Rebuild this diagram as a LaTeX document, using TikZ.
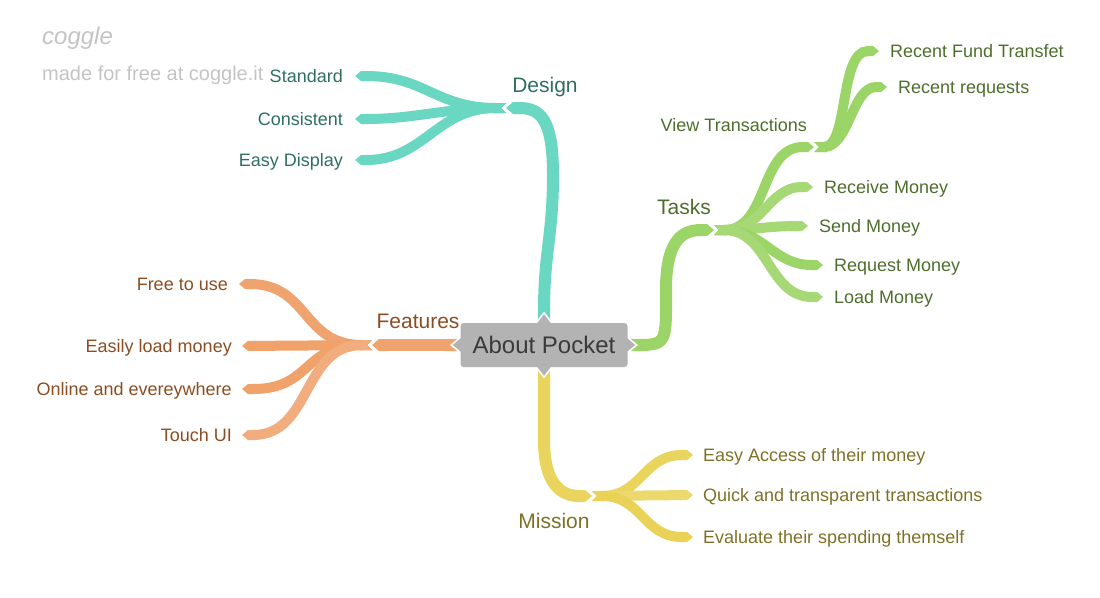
\documentclass[tikz,border=0pt]{standalone}
\usepackage{fontspec}
\setmainfont{Liberation Sans}
\usepackage{tikz}
\usetikzlibrary{arrows.meta,backgrounds,positioning}
\definecolor{designline}{HTML}{6AD7C2}
\definecolor{designtext}{HTML}{2F6F62}
\definecolor{taskline}{HTML}{9CD567}
\definecolor{tasktext}{HTML}{4D6E2C}
\definecolor{featline}{HTML}{EFA46F}
\definecolor{feattext}{HTML}{8B4D22}
\definecolor{missline}{HTML}{E9D55D}
\definecolor{misstext}{HTML}{7D7128}
\definecolor{rootgray}{HTML}{B3B3B3}
\definecolor{roottext}{HTML}{3A3A3A}
\definecolor{marktext}{HTML}{C4C4C4}
\tikzstyle{rootbox}=[fill=rootgray,rounded corners=3pt,minimum width=167pt,minimum height=44pt,text=roottext,font=\fontsize{24}{28}\selectfont]
\tikzstyle{topic}=[inner sep=0pt,text height=15pt,text depth=0pt,font=\fontsize{21}{24}\selectfont]
\tikzstyle{leaf}=[inner sep=0pt,text height=13pt,text depth=0pt,font=\fontsize{18}{20}\selectfont]
\tikzstyle{branch}=[line width=12pt,{Triangle Cap[reversed,length=6pt]}-{Triangle Cap[length=7pt]}]
\tikzstyle{twig}=[line width=10pt,{Triangle Cap[reversed,length=5pt]}-{Triangle Cap[length=6pt]}]
\tikzstyle{pointer}=[fill=rootgray,draw=white,line width=1.5pt,line join=miter]

\begin{document}
\begin{tikzpicture}[x=1pt,y=-1pt]
        \useasboundingbox (0,0) rectangle (1100,597);
        \node at (42,38) [anchor=west,inner sep=0pt,text=marktext,font=\fontsize{24}{26}\itshape] (logo) {coggle};
        \node at (42,75) [anchor=west,inner sep=0pt,text=marktext,font=\fontsize{20}{22}\selectfont] (madefor) {made for free at coggle.it};

        \node at (544,345) [rootbox] (root) {About Pocket};

        \node at (545,85) [topic,text=designtext] (design) {Design};
        \coordinate (dsgj) at (506,108);
        \node at (343,76) [leaf,anchor=east,text=designtext] (standard) {Standard};
        \node at (343,119) [leaf,anchor=east,text=designtext] (consistent) {Consistent};
        \node at (343,160) [leaf,anchor=east,text=designtext] (easydisplay) {Easy Display};

        \node at (684,207) [topic,text=tasktext] (tasks) {Tasks};
        \coordinate (tskj) at (714,230);
        \node at (807,125) [leaf,anchor=east,text=tasktext] (viewtx) {View Transactions};
        \coordinate (vtj) at (814,147);
        \node at (890,51) [leaf,anchor=west,text=tasktext] (fundtx) {Recent Fund Transfet};
        \node at (898,87) [leaf,anchor=west,text=tasktext] (recentreq) {Recent requests};
        \node at (824,187) [leaf,anchor=west,text=tasktext] (receive) {Receive Money};
        \node at (819,226) [leaf,anchor=west,text=tasktext] (send) {Send Money};
        \node at (834,265) [leaf,anchor=west,text=tasktext] (request) {Request Money};
        \node at (834,297) [leaf,anchor=west,text=tasktext] (load) {Load Money};

        \node at (418,321) [topic,text=feattext] (features) {Features};
        \coordinate (ftj) at (372,345);
        \node at (228,284) [leaf,anchor=east,text=feattext] (freeuse) {Free to use};
        \node at (232,346) [leaf,anchor=east,text=feattext] (easyload) {Easily load money};
        \node at (232,389) [leaf,anchor=east,text=feattext] (online) {Online and evereywhere};
        \node at (232,435) [leaf,anchor=east,text=feattext] (touchui) {Touch UI};

        \node at (554,521) [topic,text=misstext] (mission) {Mission};
        \coordinate (msj) at (592,496);
        \node at (703,455) [leaf,anchor=west,text=misstext] (easyaccess) {Easy Access of their money};
        \node at (703,495) [leaf,anchor=west,text=misstext] (quick) {Quick and transparent transactions};
        \node at (703,537) [leaf,anchor=west,text=misstext] (evaluate) {Evaluate their spending themself};

        \begin{scope}[on background layer]
        \draw [branch,designline] (root.north) .. controls +(0,-70) and +(0,60) .. (553,175) .. controls +(0,-55) and +(35,0) .. (dsgj);
        \draw [twig,designline] (dsgj) .. controls +(-70,0) and +(70,0) .. ([xshift=12pt]standard.east);
        \draw [twig,designline] (dsgj) .. controls +(-60,0) and +(60,0) .. ([xshift=12pt]consistent.east);
        \draw [twig,designline] (dsgj) .. controls +(-70,0) and +(70,0) .. ([xshift=12pt]easydisplay.east);

        \draw [branch,taskline] (root.east) .. controls +(40,0) and +(0,50) .. (666,290) .. controls +(0,-45) and +(-35,0) .. (tskj);
        \draw [twig,taskline] (tskj) .. controls +(55,0) and +(-55,0) .. (vtj);
        \draw [twig,taskline] (vtj) .. controls +(35,0) and +(-40,0) .. ([xshift=-11pt]fundtx.west);
        \draw [twig,taskline] (vtj) .. controls +(35,0) and +(-35,0) .. ([xshift=-11pt]recentreq.west);
        \draw [twig,taskline!90!white] (tskj) .. controls +(50,0) and +(-45,0) .. ([xshift=-11pt]receive.west);
        \draw [twig,taskline!90!white] (tskj) .. controls +(40,0) and +(-40,0) .. ([xshift=-11pt]send.west);
        \draw [twig,taskline] (tskj) .. controls +(50,0) and +(-50,0) .. ([xshift=-11pt]request.west);
        \draw [twig,taskline!90!white] (tskj) .. controls +(55,0) and +(-55,0) .. ([xshift=-11pt]load.west);

        \draw [branch,featline] (root.west) -- (ftj);
        \draw [twig,featline] (ftj) .. controls +(-70,0) and +(70,0) .. ([xshift=11pt]freeuse.east);
        \draw [twig,featline!95!orange] (ftj) -- ([xshift=10pt]easyload.east);
        \draw [twig,featline!95!orange] (ftj) .. controls +(-70,0) and +(70,0) .. ([xshift=10pt]online.east);
        \draw [twig,featline!90!white] (ftj) .. controls +(-70,0) and +(70,0) .. ([xshift=10pt]touchui.east);

        \draw [branch,missline] (root.south) -- (544,440) .. controls +(0,45) and +(-30,0) .. (msj);
        \draw [twig,missline] (msj) .. controls +(50,0) and +(-50,0) .. ([xshift=-10pt]easyaccess.west);
        \draw [twig,missline!90!white] (msj) -- ([xshift=-10pt]quick.west);
        \draw [twig,missline!95!orange] (msj) .. controls +(50,0) and +(-50,0) .. ([xshift=-10pt]evaluate.west);

        \draw [pointer] ([xshift=-10pt,yshift=-3pt]root.north) -- ([yshift=10pt]root.north) -- ([xshift=10pt,yshift=-3pt]root.north) -- cycle;
        \draw [pointer] ([xshift=-10pt,yshift=3pt]root.south) -- ([yshift=-10pt]root.south) -- ([xshift=10pt,yshift=3pt]root.south) -- cycle;
        \draw [pointer] ([yshift=-10pt,xshift=3pt]root.west) -- ([xshift=-9pt]root.west) -- ([yshift=10pt,xshift=3pt]root.west) -- cycle;
        \draw [pointer] ([yshift=-10pt,xshift=-3pt]root.east) -- ([xshift=9pt]root.east) -- ([yshift=10pt,xshift=-3pt]root.east) -- cycle;
        \end{scope}
\end{tikzpicture}
\end{document}
